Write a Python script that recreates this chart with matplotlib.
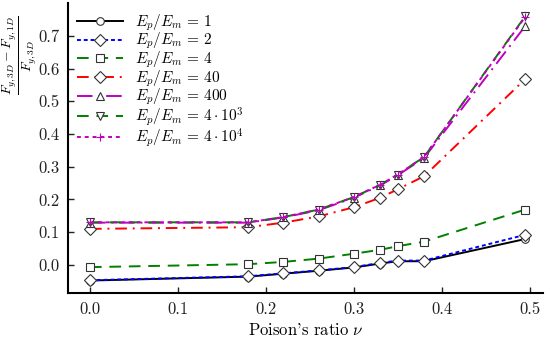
import matplotlib
matplotlib.use("Agg")
import matplotlib.pyplot as plt

plt.rcParams['font.family'] = 'serif'
plt.rcParams['font.serif'] = ['cmr10']
plt.rcParams['mathtext.fontset'] = 'cm'
plt.rcParams['axes.unicode_minus'] = False
plt.rcParams['axes.formatter.use_mathtext'] = True

nu = [0.0, 0.18, 0.22, 0.26, 0.30, 0.33, 0.35, 0.38, 0.495]

r1 = [-0.048, -0.036, -0.027, -0.018, -0.008, 0.004, 0.011, 0.011, 0.079]
r2 = [-0.047, -0.035, -0.026, -0.017, -0.007, 0.006, 0.013, 0.013, 0.092]
r4 = [-0.007, 0.002, 0.009, 0.019, 0.034, 0.046, 0.057, 0.071, 0.169]
r40 = [0.110, 0.115, 0.129, 0.148, 0.176, 0.205, 0.231, 0.271, 0.568]
r400 = [0.129, 0.129, 0.145, 0.167, 0.205, 0.243, 0.274, 0.327, 0.730]
r4e3 = [0.130, 0.130, 0.146, 0.169, 0.207, 0.245, 0.276, 0.330, 0.760]
r4e4 = [0.130, 0.130, 0.146, 0.169, 0.207, 0.245, 0.276, 0.330, 0.758]

labels = [r'$E_p/E_m\,=\,1$', r'$E_p/E_m\,=\,2$', r'$E_p/E_m\,=\,4$', r'$E_p/E_m\,=\,40$',
          r'$E_p/E_m\,=\,400$', r'$E_p/E_m\,=\,4\cdot10^3$', r'$E_p/E_m\,=\,4\cdot10^4$']
series = [r1, r2, r4, r40, r400, r4e3, r4e4]
colors = ['black', 'blue', 'green', 'red', 'm', 'green', 'm']
styles = ['-', (0, (2, 1.5)), (0, (6, 4)), (0, (6, 3, 1, 3)), (0, (8, 3, 1, 3)), (0, (6, 4)), (0, (2, 2))]
markers = ['o', 'D', 's', 'D', '^', 'v', '+']

fig = plt.figure(figsize=(5.5, 3.41), dpi=100)
ax = fig.add_axes([0.1236, 0.1408, 0.8634, 0.850])

for y, lab, c, ls, m in zip(series, labels, colors, styles, markers):
    ms = 6 if m == 'D' else 5.5
    ax.plot(nu, y, color=c, linestyle=ls, linewidth=1.4, marker=m, markersize=ms,
            markerfacecolor='white' if m != '+' else c, markeredgecolor='#333333' if m != '+' else c,
            markeredgewidth=0.8, label=lab)

ax.set_xlim(-0.025, 0.515)
ax.set_ylim(-0.086, 0.80)
ax.set_xticks([0.0, 0.1, 0.2, 0.3, 0.4, 0.5])
ax.set_yticks([0.0, 0.1, 0.2, 0.3, 0.4, 0.5, 0.6, 0.7])
ax.set_xticklabels(['0.0', '0.1', '0.2', '0.3', '0.4', '0.5'])
ax.set_yticklabels(['0.0', '0.1', '0.2', '0.3', '0.4', '0.5', '0.6', '0.7'])
ax.tick_params(direction='in', length=4, width=1, labelsize=12, colors='#222222', pad=6)
for s in ['top', 'right']:
    ax.spines[s].set_visible(False)
for s in ['left', 'bottom']:
    ax.spines[s].set_linewidth(1.5)

ax.set_xlabel(r"Poison's ratio $\nu$", fontsize=12)
ax.set_ylabel(r'$\frac{F_{y,3D}-F_{y,1D}}{F_{y,3D}}$', fontsize=14, ha='center', va='center')
ax.yaxis.set_label_coords(-0.102, 0.82)

ax.legend(loc='upper left', frameon=False, fontsize=11, handlelength=3.0,
          labelspacing=-0.12, borderaxespad=0.2, bbox_to_anchor=(0.0, 1.0))

fig.savefig('out.png', dpi=100)
